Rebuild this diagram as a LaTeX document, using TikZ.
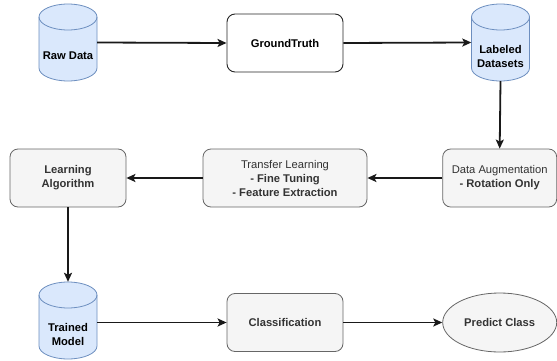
\documentclass[tikz,border=0pt]{standalone}
\usepackage{fontspec}
\setmainfont{Liberation Sans}
\usetikzlibrary{arrows.meta,shapes.geometric}
\definecolor{cylfill}{HTML}{DAE8FC}
\definecolor{cylline}{HTML}{6C8EBF}
\definecolor{greyfill}{HTML}{F5F5F5}
\definecolor{greyline}{HTML}{666666}
\definecolor{greytext}{HTML}{333333}
\newcommand{\mycyl}[4]{%
  \node[cylanchor] (#1) at (#2,#3) {};
  \filldraw[cylbody] (#2-29,#3+25.5) -- (#2-29,#3-25.5)
    arc[start angle=180,end angle=360,x radius=29,y radius=13]
    -- (#2+29,#3+25.5)
    arc[start angle=0,end angle=180,x radius=29,y radius=13] -- cycle;
  \draw[cylbody,fill=none] (#2-29,#3+25.5)
    arc[start angle=180,end angle=360,x radius=29,y radius=13];
  \node[cyltext] (#1t) at (#2,#3-13.5) {#4};
}
\begin{document}
\begin{tikzpicture}[x=1pt,y=1pt,
  every node/.style={font=\fontsize{11.2}{14}\selectfont, align=center},
  cylanchor/.style={draw=none, inner sep=0, minimum width=58pt, minimum height=77pt},
  cylbody/.style={draw=cylline, fill=cylfill, line width=0.8pt},
  cyltext/.style={font=\fontsize{11.2}{14}\selectfont\bfseries, text=black},
  whitebox/.style={draw=black!85, fill=white, rounded corners=8pt, line width=0.9pt,
    minimum width=116pt, minimum height=58pt, font=\fontsize{11.2}{14}\selectfont\bfseries},
  greybox/.style={draw=greyline, fill=greyfill, rounded corners=8pt, line width=0.8pt,
    minimum height=58pt, text=greytext},
  greyell/.style={ellipse, draw=greyline, fill=greyfill, line width=0.8pt,
    minimum width=114pt, minimum height=59pt, inner sep=0, text=greytext,
    font=\fontsize{11.2}{14}\selectfont\bfseries},
  conn/.style={draw=black!90, line width=1.8pt, -{Stealth[length=9pt,width=8pt,inset=2pt]}}
]
\useasboundingbox (0,0) rectangle (557,360);
\mycyl{raw}{68}{317.5}{Raw Data}
\mycyl{lab}{500.5}{317.5}{Labeled\\Datasets}
\mycyl{tm}{68}{39.5}{Trained\\Model}
\node[whitebox] (gt) at (285,317) {GroundTruth};
\node[greybox, minimum width=116pt, font=\fontsize{11.2}{14}\selectfont\bfseries] (la) at (68,182) {Learning\\Algorithm};
\node[greybox, minimum width=164pt] (tl) at (285,182) {Transfer Learning\\\textbf{- Fine Tuning}\\\textbf{- Feature Extraction}};
\node[greybox, minimum width=114pt] (da) at (499.7,182) {Data Augmentation\\\textbf{- Rotation Only}};
\node[greybox, minimum width=116pt, font=\fontsize{11.2}{14}\selectfont\bfseries] (cl) at (285,37.5) {Classification};
\node[greyell] (pc) at (499.7,37.5) {Predict Class};
\draw[conn] (raw.east) -- (gt.west);
\draw[conn] (gt.east) -- (lab.west);
\draw[conn] (lab.south) -- (da.north);
\draw[conn] (da.west) -- (tl.east);
\draw[conn] (tl.west) -- (la.east);
\draw[conn] (la.south) -- (tm.north);
\draw[conn] (tm.east |- cl.west) -- (cl.west);
\draw[conn] (cl.east) -- (pc.west);
\end{tikzpicture}
\end{document}
